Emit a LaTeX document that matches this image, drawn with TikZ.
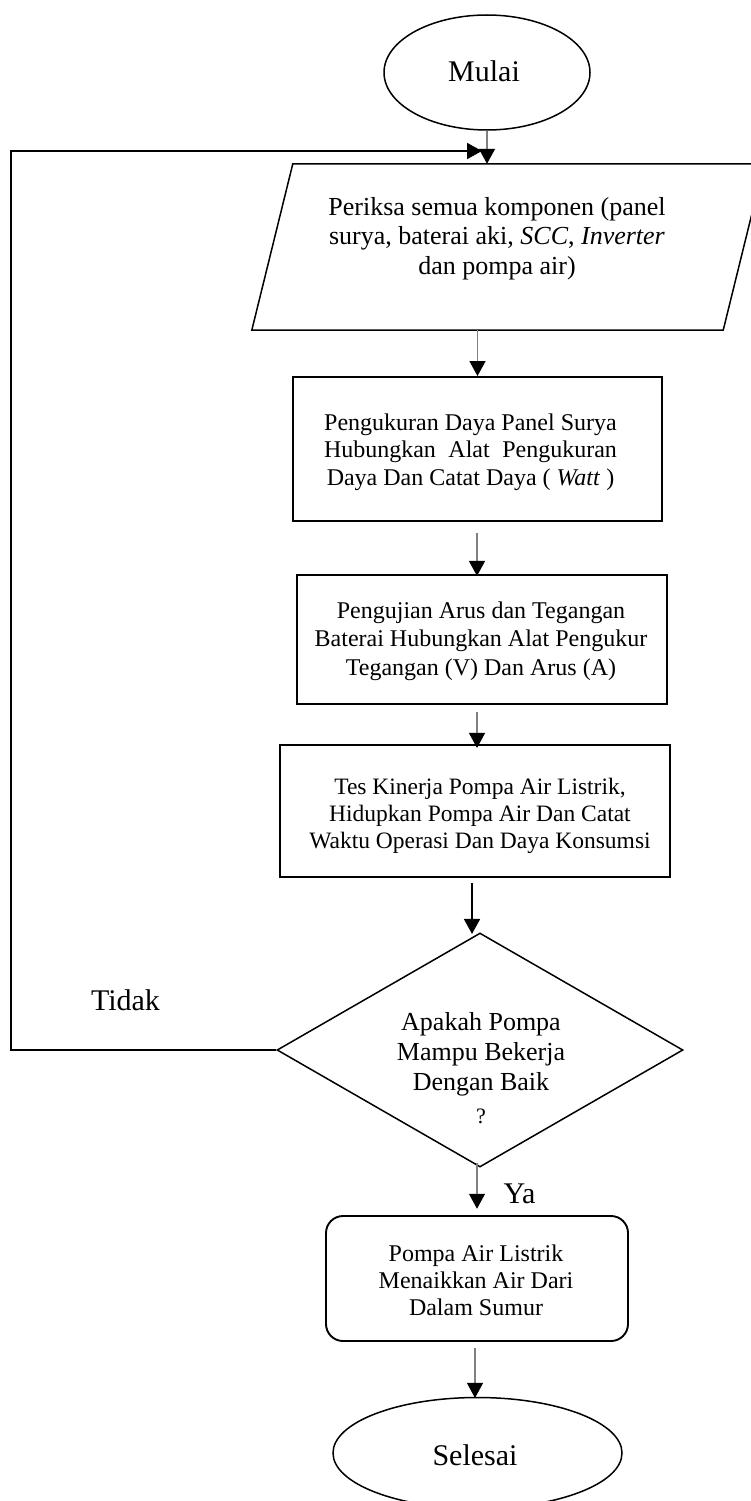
\documentclass[tikz,border=0pt]{standalone}
\usepackage{fontspec}
\setmainfont{Liberation Serif}
\usetikzlibrary{arrows.meta,shapes.geometric,calc}
\newcommand\fsBig{\fontsize{30}{34}\selectfont}
\newcommand\fsPara{\fontsize{26}{29.5}\selectfont}
\newcommand\fsBoxA{\fontsize{24}{27.5}\selectfont}
\newcommand\fsBoxB{\fontsize{24}{28.5}\selectfont}
\newcommand\fsBoxC{\fontsize{23.5}{27}\selectfont}
\newcommand\fsBoxD{\fontsize{24}{27}\selectfont}
\newcommand\fsDia{\fontsize{26}{30}\selectfont}
\newcommand\fsQ{\fontsize{22}{26}\selectfont}
\begin{document}
\begin{tikzpicture}[x=1pt,y=-1pt,
  shapeline/.style={draw=black, line width=1.5pt},
  boxnode/.style={draw=black, line width=1.9pt, rectangle, inner sep=0pt},
  txt/.style={align=center, inner sep=0pt},
  flowarrow/.style={draw=black!50, line width=1.2pt, -{Triangle[length=15pt,width=16pt,color=black]}},
  strongarrow/.style={draw=black, line width=1.8pt, -{Triangle[length=15pt,width=16pt,color=black]}},
  loopline/.style={draw=black, line width=1.8pt, -{Triangle[length=15pt,width=16pt,color=black]}}
]
\useasboundingbox (0,0) rectangle (751,1501);
\clip (0,0) rectangle (751,1501);

% start
\node[ellipse, shapeline, minimum width=206pt, minimum height=115pt, inner sep=0pt] (start) at (487,72.5) {};
\node[font=\fsBig, anchor=base, inner sep=0pt] (startlabel) at (484,82) {Mulai};

% parallelogram
\node[minimum width=512pt, minimum height=166pt, inner sep=0pt] (para) at (508,247) {};
\draw[shapeline] (para.south west) -- ($(para.north west)+(41,0)$) -- (para.north east) -- ($(para.south east)+(-41,0)$) -- cycle;
\node[font=\fsPara, txt] (paratext) at (497,238.5) {Periksa semua komponen (panel\\ surya, baterai aki, \textit{SCC}, \textit{Inverter}\\ dan pompa air)};

% box 2
\node[boxnode, minimum width=369pt, minimum height=144pt] (box2) at (477.5,449) {};
\node[font=\fsBoxA, txt] (box2text) at (470.5,452) {Pengukuran Daya Panel Surya\\ \makebox[293pt][s]{Hubungkan Alat Pengukuran}\\ Daya Dan Catat Daya ( \textit{Watt} )};

% box 3
\node[boxnode, minimum width=370pt, minimum height=129pt] (box3) at (482,639.5) {};
\node[font=\fsBoxB, txt] (box3text) at (481,641) {Pengujian Arus dan Tegangan\\ Baterai Hubungkan Alat Pengukur\\ Tegangan (V) Dan Arus (A)};

% box 4
\node[boxnode, minimum width=390pt, minimum height=132pt] (box4) at (475,811) {};
\node[font=\fsBoxC, txt] (box4text) at (480,815.5) {Tes Kinerja Pompa Air Listrik,\\ Hidupkan Pompa Air Dan Catat\\ Waktu Operasi Dan Daya Konsumsi};

% decision
\node[diamond, shapeline, minimum width=406pt, minimum height=234pt, inner sep=0pt] (dia) at (480,1050) {};
\node[font=\fsDia, txt] (diatext) at (481,1054) {Apakah Pompa\\ Mampu Bekerja\\ Dengan Baik};
\node[font=\fsQ, anchor=base, inner sep=0pt] (diaq) at (481,1123) {?};

% box 5
\node[boxnode, rounded corners=17pt, minimum width=302pt, minimum height=125pt] (box5) at (477,1278.5) {};
\node[font=\fsBoxD, txt] (box5text) at (476,1280.5) {Pompa Air Listrik\\ Menaikkan Air Dari\\ Dalam Sumur};

% end
\node[ellipse, shapeline, minimum width=289pt, minimum height=111pt, inner sep=0pt] (stop) at (477.5,1453) {};
\node[font=\fsBig, anchor=base, inner sep=0pt] (stoplabel) at (475,1465) {Selesai};

% labels
\node[font=\fsBig, anchor=base, inner sep=0pt] (ya) at (519.5,1203) {Ya};
\node[font=\fsBig, anchor=base, inner sep=0pt] (tidak) at (125.5,1010) {Tidak};

% loop coordinates
\coordinate (loopbottom) at (11,1050);
\coordinate (looptop) at (11,151);
\coordinate (loopend) at (482,151);

% connectors
\draw[flowarrow] (start.south) -- (start.south |- para.north);
\draw[flowarrow] (box2.north |- para.south) -- (box2.north);
\draw[flowarrow] ($(box2.south)+(-0.5,11)$) -- ($(box2.south)+(-0.5,54)$);
\draw[flowarrow] ($(box3.south)+(-5,7)$) -- ($(box3.south)+(-5,43)$);
\draw[strongarrow] ($(box4.south)+(-3,5)$) -- ($(box4.south)+(-3,56)$);
\draw[flowarrow] ($(dia.south)+(-3,-5)$) -- ($(dia.south)+(-3,41)$);
\draw[flowarrow] ($(box5.south)+(-2,6)$) -- ($(box5.south)+(-2,56)$);
\draw[loopline] (dia.west) -- (loopbottom) -- (looptop) -- (loopend);
\end{tikzpicture}
\end{document}
